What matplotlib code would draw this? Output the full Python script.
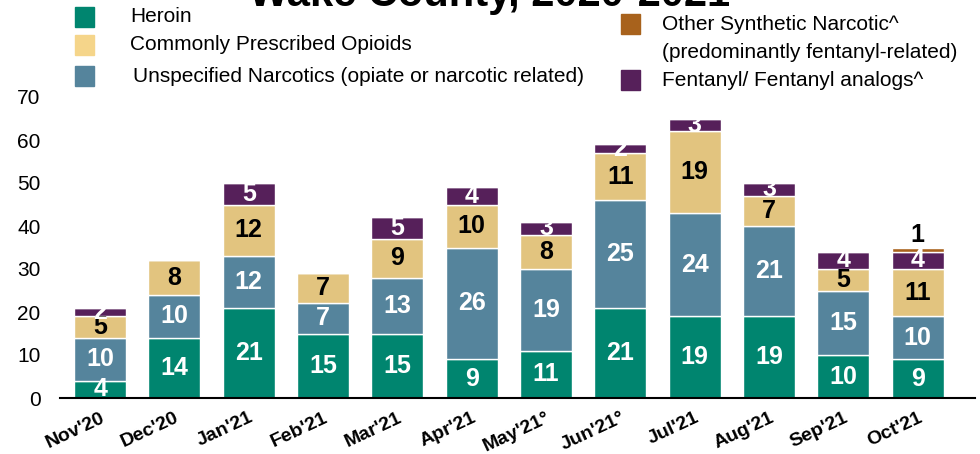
import numpy as np
import matplotlib.pyplot as plt
from matplotlib.patches import Rectangle

plt.rcParams['font.family'] = ['Liberation Sans', 'DejaVu Sans']

# data
months = ["Nov'20", "Dec'20", "Jan'21", "Feb'21", "Mar'21", "Apr'21",
          "May'21°", "Jun'21°", "Jul'21", "Aug'21", "Sep'21", "Oct'21"]
heroin = [4, 14, 21, 15, 15, 9, 11, 21, 19, 19, 10, 9]
unspecified = [10, 10, 12, 7, 13, 26, 19, 25, 24, 21, 15, 10]
prescribed = [5, 8, 12, 7, 9, 10, 8, 11, 19, 7, 5, 11]
fentanyl = [2, 0, 5, 0, 5, 4, 3, 2, 3, 3, 4, 4]
other = [0, 0, 0, 0, 0, 0, 0, 0, 0, 0, 0, 1]

c_heroin = '#00856F'
c_unspec = '#55849C'
c_presc = '#E2C47F'
c_fent = '#56205A'
c_other = '#A8621C'

fig = plt.figure(figsize=(9.8, 4.54), dpi=100)
ax = fig.add_axes([60 / 980, 1 - 398 / 454, 915 / 980, 301 / 454])

x = np.arange(len(months))
w = 0.7
series = [(heroin, c_heroin, 'white'), (unspecified, c_unspec, 'white'),
          (prescribed, c_presc, 'black'), (fentanyl, c_fent, 'white'),
          (other, c_other, 'black')]
bottom = np.zeros(len(months))
for vals, col, tcol in series:
    vals = np.array(vals)
    ax.bar(x, vals, w, bottom=bottom, color=col, edgecolor='white', linewidth=1)
    for i, v in enumerate(vals):
        if v == 0:
            continue
        if col == c_other:
            ax.text(x[i], bottom[i] + v + 3.0, str(v), ha='center', va='center',
                    color=tcol, fontsize=18, fontweight='bold')
        else:
            ax.text(x[i], bottom[i] + v / 2, str(v), ha='center', va='center',
                    color=tcol, fontsize=18, fontweight='bold')
    bottom += vals

ax.set_ylim(0, 70)
ax.set_xlim(-0.54, 11.77)
ax.set_yticks(range(0, 71, 10))
ax.tick_params(axis='y', length=0, labelsize=15, pad=14)
ax.tick_params(axis='x', length=0, pad=8)
ax.set_xticks(x)
ax.set_xticklabels(months, rotation=25, ha='right', rotation_mode='anchor',
                   fontsize=14, fontweight='bold')
for s in ['top', 'right', 'left']:
    ax.spines[s].set_visible(False)
ax.spines['bottom'].set_linewidth(1.5)

# title (cut off at top like the original)
fig.text(0.5, 1 - 6 / 454, 'Wake County, 2020-2021', ha='center', va='baseline',
         fontsize=30, fontweight='bold')

# legend drawn manually
def legend_item(px, py, col, label, tx):
    fig.patches.append(Rectangle((px / 980, 1 - (py + 10) / 454), 19 / 980, 20 / 454,
                                 transform=fig.transFigure, color=col))
    fig.text(tx / 980, 1 - py / 454, label, ha='left', va='center', fontsize=15)

legend_item(75, 17, c_heroin, 'Heroin', 130)
legend_item(75, 45, '#F5D58A', 'Commonly Prescribed Opioids', 130)
legend_item(75, 76, c_unspec, 'Unspecified Narcotics (opiate or narcotic related)', 133)
legend_item(621, 24, c_other, 'Other Synthetic Narcotic^', 662)
fig.text(662 / 980, 1 - 52 / 454, '(predominantly fentanyl-related)', ha='left',
         va='center', fontsize=15)
legend_item(621, 80, c_fent, 'Fentanyl/ Fentanyl analogs^', 662)

fig.savefig('out.png', dpi=100)
